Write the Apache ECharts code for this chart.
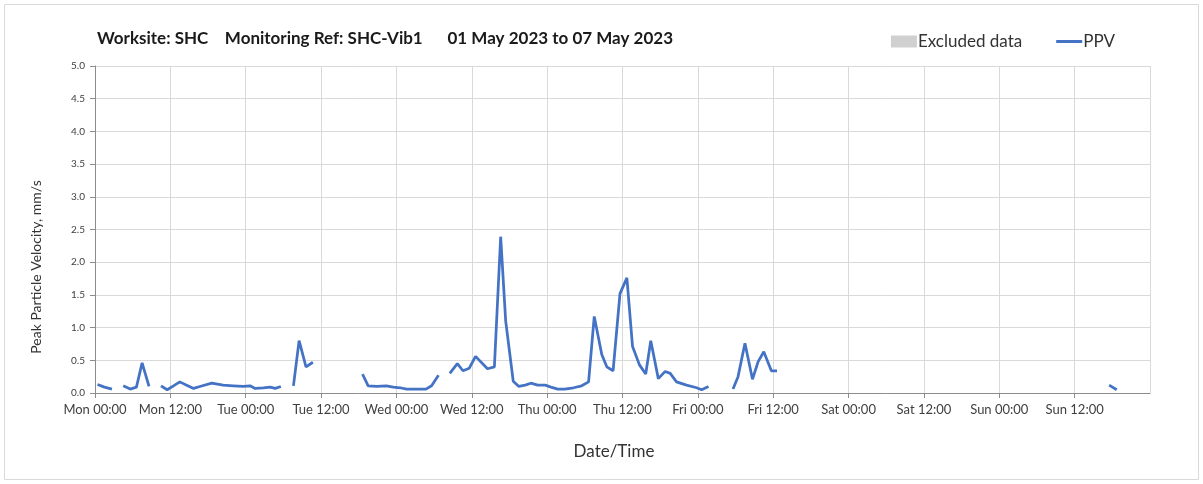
<!DOCTYPE html>
<html>
<head>
<meta charset="utf-8">
<script src="https://cdn.jsdelivr.net/npm/echarts@6/dist/echarts.min.js"></script>
<style>
html,body{margin:0;padding:0;background:#fff;}
#c{width:1203px;height:484px;}
</style>
</head>
<body>
<div id="c"></div>
<script>
// Hours since Mon 01 May 2023 00:00 (null value = gap in the record)
const hours = [
  0.4, 1.5, 2.7, 3.5,
  4.5, 5.6, 6.6, 7.5, 8.6, 9.5,
  10.5, 11.5, 12.5, 13.5, 14.6, 15.7, 16.7, 18.6, 20.4, 22.0, 23.6, 24.7, 25.5, 26.8, 27.9, 28.7, 29.6, 30.5,
  31.6, 32.5, 33.6, 34.7, 38.0,
  42.6, 43.5, 44.9, 46.4, 47.5, 48.6, 49.6, 51.2, 52.7, 53.6, 54.7, 55.5,
  56.5, 57.7, 58.6, 59.6, 60.6, 62.5, 63.6, 64.6, 65.4, 66.6, 67.5, 68.5, 69.4, 70.5, 71.7, 72.6, 73.7, 74.8, 76.2, 77.5, 78.6,
  79.5, 80.7, 81.5, 82.5, 83.6, 84.7, 85.6, 86.7, 87.7, 88.5, 89.7, 90.8, 91.6, 92.6, 94.2, 95.8, 96.6, 97.7, 99.5,
  101.6, 102.4, 103.5, 104.7, 105.6, 106.5, 107.7, 108.6, 130.0,
  161.5, 162.7
];
const ppv = [
  0.13, 0.09, 0.06, null,
  0.11, 0.06, 0.09, 0.46, 0.10, null,
  0.11, 0.05, 0.11, 0.17, 0.12, 0.07, 0.10, 0.15, 0.12, 0.11, 0.10, 0.11, 0.07, 0.08, 0.09, 0.07, 0.10, null,
  0.11, 0.80, 0.40, 0.47, null,
  0.29, 0.11, 0.10, 0.11, 0.09, 0.08, 0.06, 0.06, 0.06, 0.11, 0.27, null,
  0.30, 0.45, 0.34, 0.38, 0.56, 0.37, 0.40, 2.39, 1.10, 0.18, 0.10, 0.12, 0.15, 0.12, 0.12, 0.09, 0.06, 0.06, 0.08, 0.11, 0.17,
  1.17, 0.59, 0.40, 0.34, 1.52, 1.76, 0.71, 0.43, 0.29, 0.80, 0.22, 0.33, 0.30, 0.17, 0.12, 0.08, 0.05, 0.10, null,
  0.06, 0.25, 0.76, 0.21, 0.48, 0.63, 0.34, 0.34, null,
  0.12, 0.05
];
const dayNames = ['Mon', 'Tue', 'Wed', 'Thu', 'Fri', 'Sat', 'Sun'];
const titleText = 'Worksite: SHC    Monitoring Ref: SHC-Vib1      01 May 2023 to 07 May 2023';
const xAxisName = 'Date/Time';
const yAxisName = 'Peak Particle Velocity, mm/s';

const seriesData = hours.map((h, i) => [h, ppv[i]]);
const font = 'Lato, "Open Sans", sans-serif';

const chart = echarts.init(document.getElementById('c'), null, {renderer: 'canvas'});
chart.setOption({
  animation: false,
  textStyle: {fontFamily: font},
  graphic: [
    {
      type: 'rect', silent: true, z: -10,
      shape: {x: 4.5, y: 4.5, width: 1194, height: 475},
      style: {fill: 'none', stroke: '#d9d9d9', lineWidth: 1}
    },
    {
      type: 'text', silent: true,
      x: 36, y: 267, rotation: Math.PI / 2,
      style: {text: yAxisName, fontFamily: font, fontSize: 14, fill: '#333', align: 'center', verticalAlign: 'middle'}
    },
    {
      type: 'text', silent: true,
      x: 614, y: 452,
      style: {text: xAxisName, fontFamily: font, fontSize: 17, fill: '#333', align: 'center', verticalAlign: 'middle'}
    }
  ],
  title: {
    text: titleText,
    left: 92, top: 25,
    textStyle: {fontFamily: font, fontSize: 17, fontWeight: 'bold', color: '#1a1a1a'}
  },
  legend: {
    right: 83, top: 28,
    itemGap: 34,
    itemWidth: 26, itemHeight: 12,
    symbolKeepAspect: true,
    textStyle: {fontFamily: font, fontSize: 17, color: '#333', padding: [0, 0, 0, -4]},
    data: [
      {name: 'Excluded data', icon: 'rect', itemStyle: {color: '#d0d0d0'}},
      {name: 'PPV', icon: 'path://M0,0 L26,0 L26,3 L0,3 Z', itemStyle: {color: '#4472c4'}}
    ]
  },
  grid: {left: 95, right: 53, top: 66, bottom: 91},
  xAxis: {
    type: 'value',
    min: 0, max: 168, interval: 12,
    axisLine: {show: true, lineStyle: {color: '#8c8c8c', width: 1}},
    axisTick: {show: true, length: 5, lineStyle: {color: '#8c8c8c'}},
    axisLabel: {
      fontFamily: font, fontSize: 13, color: '#404040', margin: 10,
      showMaxLabel: false,
      formatter: v => {
        const d = Math.floor(v / 24);
        if (d >= 7) return '';
        return dayNames[d] + ' ' + (v % 24 === 0 ? '00:00' : '12:00');
      }
    },
    splitLine: {show: true, lineStyle: {color: '#d9d9d9', width: 1}}
  },
  yAxis: {
    type: 'value',
    min: 0, max: 5, interval: 0.5,
    axisLine: {show: true, lineStyle: {color: '#8c8c8c', width: 1}},
    axisTick: {show: true, length: 5, lineStyle: {color: '#8c8c8c'}},
    axisLabel: {fontFamily: font, fontSize: 10, color: '#404040', margin: 10, formatter: v => v.toFixed(1)},
    splitLine: {show: true, lineStyle: {color: '#d9d9d9', width: 1}}
  },
  series: [
    {
      name: 'Excluded data', type: 'bar', data: [],
      itemStyle: {color: '#d0d0d0'}
    },
    {
      name: 'PPV', type: 'line', data: seriesData,
      showSymbol: false, symbol: 'none',
      connectNulls: false,
      lineStyle: {color: '#4472c4', width: 2.75},
      itemStyle: {color: '#4472c4'}
    }
  ]
});
</script>
</body>
</html>
